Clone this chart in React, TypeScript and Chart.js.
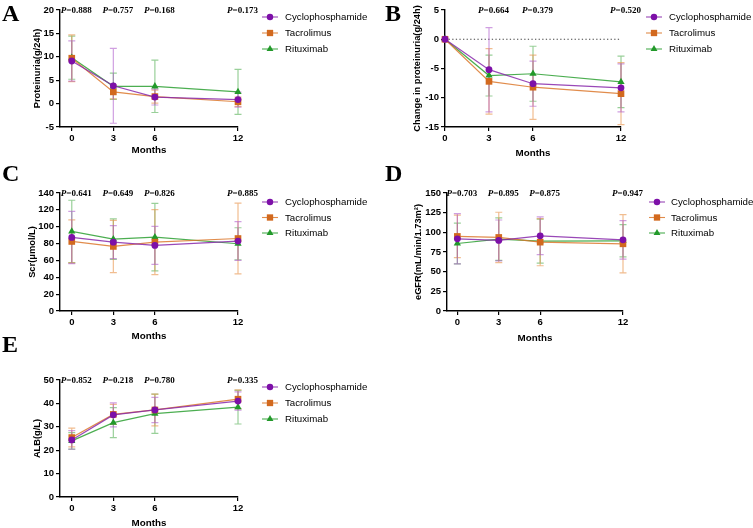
import { useEffect, useRef } from "react";
import { Chart, registerables } from "chart.js";
Chart.register(...registerables);

// ---------- data ----------
const months = [0, 3, 6, 12];
const groupNames = ["Cyclophosphamide", "Tacrolimus", "Rituximab"];

// A: Proteinuria (g/24h)
const protCyc = [9.1, 3.8, 1.4, 0.85];
const protCycSd = [4.3, 8.0, 1.7, 1.6];
const protTac = [9.7, 2.5, 1.5, 0.4];
const protTacSd = [5.0, 1.5, 1.4, 1.0];
const protRit = [9.8, 3.7, 3.7, 2.5];
const protRitSd = [4.6, 2.8, 5.6, 4.8];
const protTicks = [-5, 0, 5, 10, 15, 20];
const protP = ["0.888", "0.757", "0.168", "0.173"];

// B: Change in proteinuria
const chgCyc = [0, -5.2, -7.6, -8.3];
const chgCycSd = [0, 7.2, 3.85, 4.1];
const chgTac = [0, -7.2, -8.2, -9.3];
const chgTacSd = [0, 5.6, 5.5, 5.3];
const chgRit = [0, -6.2, -5.9, -7.3];
const chgRitSd = [0, 3.5, 4.7, 4.4];
const chgTicks = [-15, -10, -5, 0, 5];
const chgP = ["", "0.664", "0.379", "0.520"];

// C: Scr (µmol/L)
const scrCyc = [87.3, 81.7, 77.8, 83.0];
const scrCycSd = [31, 19.5, 22.5, 23];
const scrTac = [82.5, 76.6, 81.7, 86.0];
const scrTacSd = [25.5, 31, 38.5, 42];
const scrRit = [94.4, 85.3, 87.7, 79.8];
const scrRitSd = [37, 24, 40, 19];
const scrTicks = [0, 20, 40, 60, 80, 100, 120, 140];
const scrP = ["0.641", "0.649", "0.826", "0.885"];

// D: eGFR
const egfrCyc = [91.8, 89.7, 95.6, 90.5];
const egfrCycSd = [32, 26, 24, 24.5];
const egfrTac = [94.8, 93.5, 87.5, 85.4];
const egfrTacSd = [27, 32, 30, 37];
const egfrRit = [85.8, 91.4, 88.8, 89.2];
const egfrRitSd = [26, 27, 28, 20.5];
const egfrTicks = [0, 25, 50, 75, 100, 125, 150];
const egfrP = ["0.703", "0.895", "0.875", "0.947"];

// E: ALB (g/L)
const albCyc = [24.4, 35.1, 37.2, 41.0];
const albCycSd = [4.0, 5.1, 5.4, 3.9];
const albTac = [25.4, 35.3, 37.2, 41.8];
const albTacSd = [4.0, 4.3, 6.8, 4.0];
const albRit = [24.0, 31.8, 35.6, 38.4];
const albRitSd = [3.5, 6.4, 8.4, 7.2];
const albTicks = [0, 10, 20, 30, 40, 50];
const albP = ["0.852", "0.218", "0.780", "0.335"];

// ---------- styles ----------
const W = 753;
const H = 528;
const YW = 40;
const XH = 20;
const markerColors = ["#7D10A8", "#D2691E", "#22992A"];
const lineColors = ["rgba(135,40,170,0.85)", "rgba(220,120,45,0.85)", "rgba(45,160,50,0.85)"];
const errColors = ["rgba(170,80,200,0.55)", "rgba(232,145,70,0.6)", "rgba(70,170,70,0.55)"];
const pointStyles = ["circle", "rect", "triangle"];
const pointRadii = [3.4, 4.7, 4.2];
const SANS = '"Liberation Sans", Arial, sans-serif';
const SERIF = '"Liberation Serif", "Times New Roman", serif';

type Panel = {
  letter: string; letterX: number; letterY: number;
  L: number; R: number; T: number; B: number; xMin: number;
  yTicks: number[]; means: number[][]; sds: number[][]; pvals: string[];
  yTitle: string; yTitleX: number; xTitleY: number;
  legX: number; legTextX: number; legY: number; legDy: number; zeroLine?: boolean;
};

const panels: Panel[] = [
  { letter: "A", letterX: 2, letterY: 21, L: 60, R: 238, T: 10, B: 127, xMin: -0.85,
    yTicks: protTicks, means: [protCyc, protTac, protRit], sds: [protCycSd, protTacSd, protRitSd],
    pvals: protP, yTitle: "Proteinuria(g/24h)", yTitleX: 37, xTitleY: 150,
    legX: 270, legTextX: 285, legY: 17, legDy: 16 },
  { letter: "B", letterX: 385, letterY: 21, L: 445, R: 621, T: 10, B: 127, xMin: 0,
    yTicks: chgTicks, means: [chgCyc, chgTac, chgRit], sds: [chgCycSd, chgTacSd, chgRitSd],
    pvals: chgP, yTitle: "Change in proteinuria(g/24h)", yTitleX: 417, xTitleY: 153,
    legX: 654, legTextX: 669, legY: 17, legDy: 16, zeroLine: true },
  { letter: "C", letterX: 2, letterY: 181, L: 60, R: 238, T: 193, B: 311, xMin: -0.85,
    yTicks: scrTicks, means: [scrCyc, scrTac, scrRit], sds: [scrCycSd, scrTacSd, scrRitSd],
    pvals: scrP, yTitle: "Scr(\u03bcmol/L)", yTitleX: 32, xTitleY: 336,
    legX: 270, legTextX: 285, legY: 202, legDy: 15.5 },
  { letter: "D", letterX: 385, letterY: 181, L: 447, R: 623, T: 193, B: 311, xMin: -0.75,
    yTicks: egfrTicks, means: [egfrCyc, egfrTac, egfrRit], sds: [egfrCycSd, egfrTacSd, egfrRitSd],
    pvals: egfrP, yTitle: "eGFR(mL/min/1.73m\u00b2)", yTitleX: 418, xTitleY: 338,
    legX: 657, legTextX: 671, legY: 202, legDy: 15.5 },
  { letter: "E", letterX: 2, letterY: 352, L: 60, R: 238, T: 380, B: 497, xMin: -0.85,
    yTicks: albTicks, means: [albCyc, albTac, albRit], sds: [albCycSd, albTacSd, albRitSd],
    pvals: albP, yTitle: "ALB(g/L)", yTitleX: 37, xTitleY: 523,
    legX: 270, legTextX: 285, legY: 387, legDy: 16 },
];

function drawMarker(ctx: CanvasRenderingContext2D, style: string, x: number, y: number, r: number) {
  ctx.beginPath();
  if (style === "circle") {
    ctx.arc(x, y, r, 0, Math.PI * 2);
  } else if (style === "rect") {
    const s = r * Math.SQRT1_2;
    ctx.rect(x - s, y - s, 2 * s, 2 * s);
  } else {
    let a = 0;
    ctx.moveTo(x + Math.sin(a) * r, y - Math.cos(a) * r);
    a += (2 * Math.PI) / 3;
    ctx.lineTo(x + Math.sin(a) * r, y - Math.cos(a) * r);
    a += (2 * Math.PI) / 3;
    ctx.lineTo(x + Math.sin(a) * r, y - Math.cos(a) * r);
    ctx.closePath();
  }
  ctx.fill();
}

function makeDecor(p: Panel) {
  return {
    id: "decor" + p.letter,
    beforeDatasetsDraw(chart: any) {
      const ctx: CanvasRenderingContext2D = chart.ctx;
      const xs = chart.scales.x;
      const ys = chart.scales.y;
      ctx.save();
      if (p.zeroLine) {
        ctx.strokeStyle = "#444";
        ctx.lineWidth = 1.2;
        ctx.setLineDash([1.3, 2.3]);
        ctx.beginPath();
        const y0 = ys.getPixelForValue(0);
        ctx.moveTo(chart.chartArea.left, y0);
        ctx.lineTo(xs.getPixelForValue(12), y0);
        ctx.stroke();
        ctx.setLineDash([]);
      }
      // error bars
      for (let g = p.means.length - 1; g >= 0; g--) {
        ctx.strokeStyle = errColors[g];
        ctx.lineWidth = 1.2;
        months.forEach((m, i) => {
          const sd = p.sds[g][i];
          if (!sd) return;
          const x = xs.getPixelForValue(m);
          const yt = ys.getPixelForValue(p.means[g][i] + sd);
          const yb = ys.getPixelForValue(p.means[g][i] - sd);
          ctx.beginPath();
          ctx.moveTo(x, yt); ctx.lineTo(x, yb);
          ctx.moveTo(x - 3.5, yt); ctx.lineTo(x + 3.5, yt);
          ctx.moveTo(x - 3.5, yb); ctx.lineTo(x + 3.5, yb);
          ctx.stroke();
        });
      }
      ctx.restore();
    },
    afterDraw(chart: any) {
      const ctx: CanvasRenderingContext2D = chart.ctx;
      const xs = chart.scales.x;
      const area = chart.chartArea;
      ctx.save();
      ctx.fillStyle = "#000";
      // panel letter
      ctx.font = `bold 24px ${SERIF}`;
      ctx.textAlign = "left";
      ctx.textBaseline = "alphabetic";
      ctx.fillText(p.letter, p.letterX, p.letterY);
      // x title
      ctx.font = `bold 9.8px ${SANS}`;
      ctx.textAlign = "center";
      ctx.textBaseline = "middle";
      ctx.fillText("Months", (area.left + area.right) / 2, p.xTitleY);
      // y title
      ctx.save();
      ctx.translate(p.yTitleX, (area.top + area.bottom) / 2);
      ctx.rotate(-Math.PI / 2);
      ctx.font = `bold 9.3px ${SANS}`;
      ctx.fillText(p.yTitle, 0, 0);
      ctx.restore();
      // p-values
      p.pvals.forEach((pv, i) => {
        if (!pv) return;
        const cx = xs.getPixelForValue(months[i]) + 4.5;
        ctx.font = `italic bold 9px ${SERIF}`;
        const wP = ctx.measureText("P").width;
        ctx.font = `bold 9px ${SERIF}`;
        const rest = "=" + pv;
        const wR = ctx.measureText(rest).width;
        const x0 = cx - (wP + wR) / 2;
        ctx.textAlign = "left";
        ctx.textBaseline = "middle";
        ctx.font = `italic bold 9px ${SERIF}`;
        ctx.fillText("P", x0, area.top + 0.5);
        ctx.font = `bold 9px ${SERIF}`;
        ctx.fillText(rest, x0 + wP, area.top + 0.5);
      });
      // legend
      groupNames.forEach((name, g) => {
        const y = p.legY + g * p.legDy;
        ctx.strokeStyle = lineColors[g];
        ctx.lineWidth = 1.1;
        ctx.beginPath();
        ctx.moveTo(p.legX - 8, y);
        ctx.lineTo(p.legX + 8, y);
        ctx.stroke();
        ctx.fillStyle = markerColors[g];
        drawMarker(ctx, pointStyles[g], p.legX, y, pointRadii[g] * 0.95);
        ctx.fillStyle = "#000";
        ctx.font = `9.7px ${SANS}`;
        ctx.textAlign = "left";
        ctx.textBaseline = "middle";
        ctx.fillText(name, p.legTextX, y + 0.5);
      });
      ctx.restore();
    },
  };
}

function buildChart(canvas: HTMLCanvasElement, p: Panel) {
  const tickFont = { family: SANS, size: 9.5, weight: "bold" as const };
  const grid = { drawOnChartArea: false, drawTicks: true, tickLength: 4, color: "#000", lineWidth: 1.2 };
  const border = { display: true, color: "#000", width: 1.4 };
  return new Chart(canvas, {
    type: "line",
    data: {
      datasets: groupNames.map((name, g) => ({
        label: name,
        data: months.map((m, i) => ({ x: m, y: p.means[g][i] })),
        borderColor: lineColors[g],
        backgroundColor: markerColors[g],
        pointBackgroundColor: markerColors[g],
        pointBorderColor: markerColors[g],
        pointBorderWidth: 0,
        pointStyle: pointStyles[g] as any,
        pointRadius: pointRadii[g],
        borderWidth: 1.2,
        tension: 0,
        clip: false as any,
      })),
    },
    options: {
      animation: false,
      responsive: false,
      events: [],
      layout: {
        padding: { left: p.L - YW, right: W - p.R, top: p.T, bottom: H - p.B - XH },
      },
      plugins: { legend: { display: false }, tooltip: { enabled: false } },
      scales: {
        x: {
          type: "linear",
          min: p.xMin,
          max: 12,
          afterBuildTicks: (s: any) => { s.ticks = months.map((v) => ({ value: v })); },
          afterFit: (s: any) => { s.height = XH; },
          grid, border,
          ticks: { color: "#000", font: tickFont, padding: 2, autoSkip: false, maxRotation: 0, callback: (v: any) => String(v) },
        },
        y: {
          type: "linear",
          min: p.yTicks[0],
          max: p.yTicks[p.yTicks.length - 1],
          afterBuildTicks: (s: any) => { s.ticks = p.yTicks.map((v) => ({ value: v })); },
          afterFit: (s: any) => { s.width = YW; },
          grid, border,
          ticks: { color: "#000", font: tickFont, padding: 2, autoSkip: false, callback: (v: any) => String(v) },
        },
      },
    },
    plugins: [makeDecor(p)],
  } as any);
}

export default function App() {
  const refs = useRef<(HTMLCanvasElement | null)[]>([]);
  useEffect(() => {
    const charts = panels.map((p, i) => buildChart(refs.current[i] as HTMLCanvasElement, p));
    return () => charts.forEach((c) => c.destroy());
  }, []);
  return (
    <div style={{ position: "absolute", left: 0, top: 0, width: W, height: H, background: "#fff", overflow: "hidden" }}>
      {panels.map((p, i) => (
        <canvas
          key={p.letter}
          ref={(el) => { refs.current[i] = el; }}
          width={W}
          height={H}
          style={{ position: "absolute", left: 0, top: 0, width: W, height: H }}
        />
      ))}
    </div>
  );
}
